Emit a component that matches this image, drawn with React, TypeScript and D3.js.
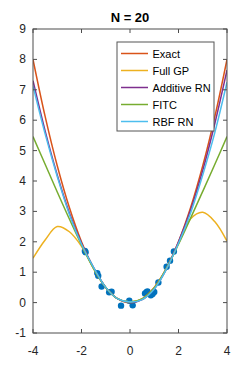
import React, { useRef, useEffect } from 'react';
import * as d3 from 'd3';

// sample positions for the curves
const xs = [-4, -3.5, -3, -2.5, -2, -1.5, -1, -0.5, 0, 0.5, 1, 1.5, 2, 2.5, 3, 3.5, 4];

const exactY = [8, 6.125, 4.5, 3.125, 2, 1.125, 0.5, 0.125, 0, 0.125, 0.5, 1.125, 2, 3.125, 4.5, 6.125, 8];
const fullGpY = [1.46, 2.06, 2.5, 2.33, 1.85, 1.12, 0.5, 0.12, 0.02, 0.12, 0.48, 1.12, 1.95, 2.76, 2.97, 2.66, 2.02];
const additiveY = [7.3, 5.65, 4.2, 2.95, 1.95, 1.15, 0.5, 0.12, 0.0, 0.1, 0.45, 1.1, 2.0, 3.05, 4.35, 5.9, 7.65];
const fitcY = [5.46, 4.55, 3.64, 2.75, 1.9, 1.12, 0.5, 0.12, 0.02, 0.12, 0.48, 1.12, 1.92, 2.78, 3.66, 4.55, 5.46];
const rbfY = [7.13, 5.55, 4.15, 2.9, 1.92, 1.15, 0.5, 0.12, 0.02, 0.1, 0.45, 1.1, 1.95, 2.95, 4.2, 5.6, 7.25];

// training points
const dataX = [-1.86, -1.83, -1.35, -1.31, -1.17, -0.86, -0.76, -0.37, -0.03, 0.11, 0.62, 0.68, 0.72, 0.86, 0.93, 1.0, 1.17, 1.51, 1.65, 1.81];
const dataY = [1.7, 1.66, 0.97, 0.88, 0.53, 0.34, 0.36, -0.1, 0.06, -0.09, 0.3, 0.34, 0.37, 0.24, 0.28, 0.35, 0.66, 1.18, 1.38, 1.68];

const seriesNames = ['Exact', 'Full GP', 'Additive RN', 'FITC', 'RBF RN'];
const seriesColors = ['#D95319', '#EDB120', '#7E2F8E', '#77AC30', '#4DBEEE'];
const seriesValues = [exactY, fullGpY, additiveY, fitcY, rbfY];

const xTicks = [-4, -2, 0, 2, 4];
const yTicks = [-1, 0, 1, 2, 3, 4, 5, 6, 7, 8, 9];

const App = () => {
  const ref = useRef<SVGSVGElement>(null);

  useEffect(() => {
    if (!ref.current) return;
    const svg = d3.select(ref.current);
    svg.selectAll('*').remove();

    const left = 33, right = 227, top = 29, bottom = 333;
    const x = d3.scaleLinear().domain([-4, 4]).range([left, right]);
    const y = d3.scaleLinear().domain([-1, 9]).range([bottom, top]);
    const font = 'Liberation Sans, Arial, sans-serif';
    const axisColor = '#4d4d4d';

    svg.append('rect')
      .attr('x', 0).attr('y', 0).attr('width', 251).attr('height', 374)
      .attr('fill', '#fff');

    // title
    svg.append('text')
      .attr('x', (left + right) / 2).attr('y', 22)
      .attr('text-anchor', 'middle')
      .attr('font-family', font).attr('font-size', 13).attr('font-weight', 'bold')
      .attr('fill', '#000')
      .text('N = 20');

    const plot = svg.append('g');
    plot.append('clipPath').attr('id', 'clip')
      .append('rect').attr('x', left).attr('y', top).attr('width', right - left).attr('height', bottom - top);

    // data points
    plot.append('g').attr('clip-path', 'url(#clip)')
      .selectAll('circle').data(dataX).enter().append('circle')
      .attr('cx', (d) => x(d))
      .attr('cy', (d, i) => y(dataY[i]))
      .attr('r', 3.2)
      .attr('fill', '#0072BD');

    // curves
    const line = d3.line<number>()
      .x((d, i) => x(xs[i]))
      .y((d) => y(d))
      .curve(d3.curveCatmullRom);

    plot.append('g').attr('clip-path', 'url(#clip)')
      .selectAll('path').data(seriesValues).enter().append('path')
      .attr('d', (d) => line(d))
      .attr('fill', 'none')
      .attr('stroke', (d, i) => seriesColors[i])
      .attr('stroke-width', 1.5);

    // axes box
    svg.append('rect')
      .attr('x', left).attr('y', top).attr('width', right - left).attr('height', bottom - top)
      .attr('fill', 'none').attr('stroke', axisColor).attr('stroke-width', 1);

    const tickLen = 4;
    const xt = svg.append('g');
    xTicks.forEach((t) => {
      xt.append('line').attr('x1', x(t)).attr('x2', x(t)).attr('y1', bottom).attr('y2', bottom - tickLen)
        .attr('stroke', axisColor);
      xt.append('line').attr('x1', x(t)).attr('x2', x(t)).attr('y1', top).attr('y2', top + tickLen)
        .attr('stroke', axisColor);
      xt.append('text').attr('x', x(t)).attr('y', 355)
        .attr('text-anchor', 'middle')
        .attr('font-family', font).attr('font-size', 12).attr('fill', '#262626')
        .text(t);
    });

    const yt = svg.append('g');
    yTicks.forEach((t) => {
      yt.append('line').attr('x1', left).attr('x2', left + tickLen).attr('y1', y(t)).attr('y2', y(t))
        .attr('stroke', axisColor);
      yt.append('line').attr('x1', right).attr('x2', right - tickLen).attr('y1', y(t)).attr('y2', y(t))
        .attr('stroke', axisColor);
      yt.append('text').attr('x', 26).attr('y', y(t) + 4)
        .attr('text-anchor', 'end')
        .attr('font-family', font).attr('font-size', 12).attr('fill', '#262626')
        .text(t);
    });

    // legend
    const lg = svg.append('g');
    lg.append('rect')
      .attr('x', 117).attr('y', 42).attr('width', 97).attr('height', 89)
      .attr('fill', '#fff').attr('stroke', '#555').attr('stroke-width', 1);
    seriesNames.forEach((name, i) => {
      const cy = 53.5 + i * 17;
      lg.append('line').attr('x1', 121).attr('x2', 148).attr('y1', cy).attr('y2', cy)
        .attr('stroke', seriesColors[i]).attr('stroke-width', 1.5);
      lg.append('text').attr('x', 152.5).attr('y', cy + 4)
        .attr('font-family', font).attr('font-size', 11).attr('fill', '#000')
        .text(name);
    });
  }, []);

  return (
    <svg
      ref={ref}
      width={251}
      height={374}
      style={{ position: 'absolute', left: 0, top: 0, display: 'block' }}
    />
  );
};

export default App;
